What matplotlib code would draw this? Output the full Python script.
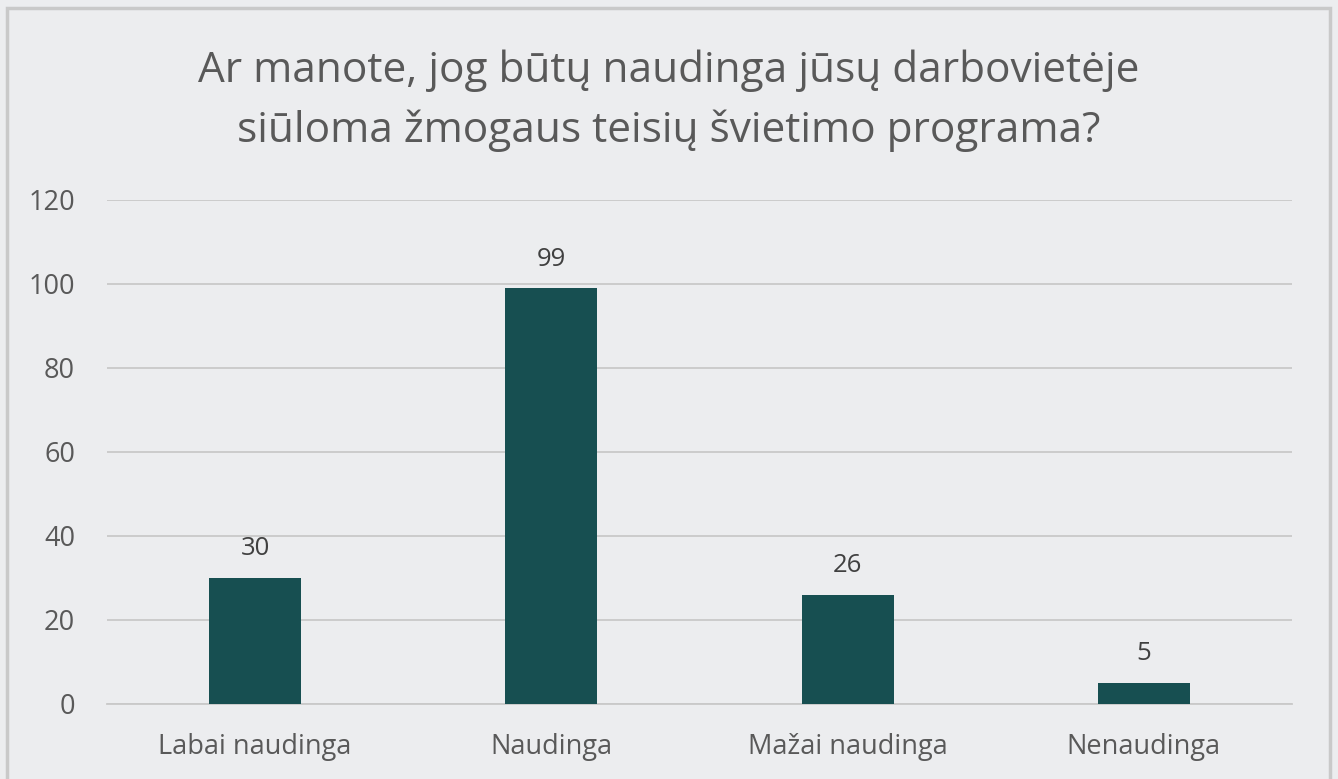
import matplotlib.pyplot as plt
from matplotlib.patches import Rectangle

categories = ["Labai naudinga", "Naudinga", "Mažai naudinga", "Nenaudinga"]
values = [30, 99, 26, 5]
title = "Ar manote, jog būtų naudinga jūsų darbovietėje\nsiūloma žmogaus teisių švietimo programa?"

bg = "#ECEDEF"
bar_color = "#174F51"
text_color = "#595959"
grid_color = "#C9C9C9"

plt.rcParams["font.family"] = ["Open Sans", "DejaVu Sans"]

fig = plt.figure(figsize=(13.38, 7.79), dpi=100)
fig.patch.set_facecolor(bg)
fig.patches.append(Rectangle((7 / 1338, -0.05), 1323 / 1338, 1.05 - 8 / 779,
                             transform=fig.transFigure, fill=False,
                             edgecolor=grid_color, linewidth=2.5))

ax = fig.add_axes([0.080, 0.0963, 0.8856, 0.647])
ax.set_facecolor(bg)

x = range(len(categories))
ax.bar(x, values, width=0.31, color=bar_color, zorder=3)
for xi, v in zip(x, values):
    ax.annotate(str(v), (xi, v), xytext=(0, 12), textcoords="offset points",
                ha="center", va="bottom", fontsize=18.5, color="#404040")

ax.set_xlim(-0.5, len(categories) - 0.5)
ax.set_ylim(0, 120)
ax.set_yticks(range(0, 121, 20))
ax.yaxis.grid(True, color=grid_color, linewidth=1.3, zorder=0)
ax.set_xticks(list(x))
ax.set_xticklabels(categories)
ax.tick_params(axis="both", length=0, labelsize=19.5, labelcolor=text_color)
ax.tick_params(axis="x", pad=21)
ax.tick_params(axis="y", pad=23)
for s in ["top", "right", "left"]:
    ax.spines[s].set_visible(False)
ax.spines["bottom"].set_color(grid_color)
ax.spines["bottom"].set_linewidth(1.3)

fig.text(0.5, 0.871, title, ha="center", va="center", fontsize=30.5,
         color=text_color, linespacing=1.55)

fig.savefig("out.png", dpi=100, facecolor=bg)
